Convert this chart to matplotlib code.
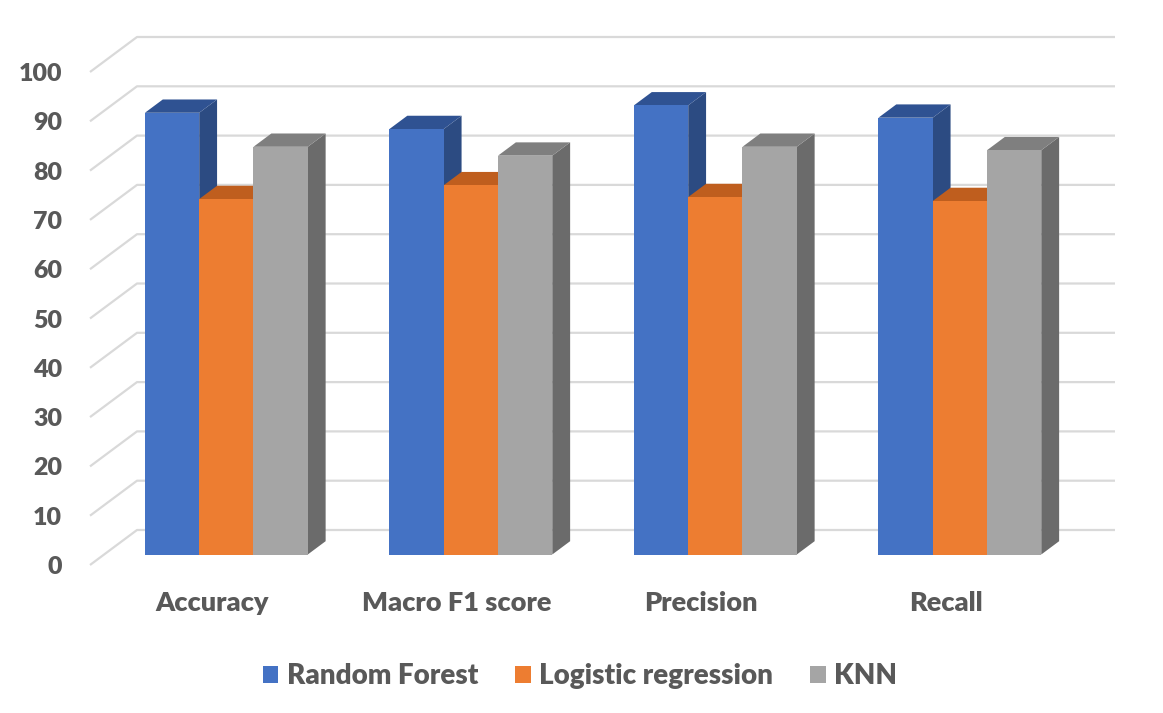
import matplotlib
matplotlib.use("Agg")
import matplotlib.pyplot as plt
from matplotlib.patches import Polygon, Patch

# ---- data ----
categories = ["Accuracy", "Macro F1 score", "Precision", "Recall"]
series_names = ["Random Forest", "Logistic regression", "KNN"]
random_forest = [89.6, 86.3, 91.1, 88.6]
logistic_regression = [72.1, 74.9, 72.5, 71.7]
knn = [82.7, 80.9, 82.7, 82.0]
y_ticks = list(range(0, 101, 10))

# ---- style ----
front_colors = ["#4472C4", "#ED7D31", "#A5A5A5"]
top_colors = ["#2F5292", "#BF5E1E", "#7F7F7F"]
side_colors = ["#2C4B82", "#B05618", "#6B6B6B"]
grid_color = "#D9D9D9"
text_color = "#595959"
FONT = "Lato"

W, H = 1163, 713
fig = plt.figure(figsize=(W / 100, H / 100), dpi=100)

# axes placement (pixel geometry of the reference)
left_px, bottom_px = 90, 565
cat_px = 244.5          # pixels per category band
val_px = 4.93           # pixels per value unit
ax = fig.add_axes([left_px / W, (H - bottom_px) / H, (W - left_px) / W, bottom_px / H])
ax.set_xlim(-0.5, -0.5 + (W - left_px) / cat_px)
ax.set_ylim(0, bottom_px / val_px)

DX = 47 / cat_px        # depth offset in x data units
DY = 35 / val_px        # depth offset in value units


def proj(x, v, d):
    return (x + d * DX, v + d * DY)


ncat = len(categories)
# gridlines: left wall diagonal + back wall
for v in y_ticks:
    pts = [proj(-0.5, v, 0), proj(-0.5, v, 1), proj(ncat - 0.5, v, 1)]
    ax.plot([p[0] for p in pts], [p[1] for p in pts], color=grid_color,
            lw=1.6, solid_capstyle="butt", zorder=1, clip_on=False)

series = [random_forest, logistic_regression, knn]
bw = 0.222
d0, d1 = 0.30, 0.68
z = 2
for i in range(ncat):
    for s, vals in enumerate(series):
        v = vals[i]
        xl = i - 1.5 * bw + s * bw
        xr = xl + bw
        # side face
        side = [proj(xr, 0, d0), proj(xr, 0, d1), proj(xr, v, d1), proj(xr, v, d0)]
        ax.add_patch(Polygon(side, closed=True, facecolor=side_colors[s],
                             edgecolor="none", zorder=z, clip_on=False))
        # top face
        top = [proj(xl, v, d0), proj(xr, v, d0), proj(xr, v, d1), proj(xl, v, d1)]
        ax.add_patch(Polygon(top, closed=True, facecolor=top_colors[s],
                             edgecolor="none", zorder=z + 0.1, clip_on=False))
        # front face
        fx, fy = proj(xl, 0, d0)
        ax.bar(fx, v, width=bw, bottom=fy, align="edge", color=front_colors[s],
               edgecolor="none", zorder=z + 0.2, clip_on=False)
        z += 1

for sp in ax.spines.values():
    sp.set_visible(False)
ax.set_yticks(y_ticks)
ax.set_yticklabels([str(t) for t in y_ticks])
ax.set_xticks(range(ncat))
ax.set_xticklabels(categories)
ax.tick_params(axis="y", length=0, pad=20, labelsize=18, labelcolor=text_color)
ax.tick_params(axis="x", length=0, pad=19, labelsize=19.5, labelcolor=text_color)
for lab in ax.get_xticklabels() + ax.get_yticklabels():
    lab.set_fontfamily(FONT)
    lab.set_fontweight("heavy")

handles = [Patch(facecolor=c, edgecolor="none") for c in front_colors]
leg = fig.legend(handles, series_names, loc="center",
                 bbox_to_anchor=(580 / W, 1 - 676 / H), ncol=3, frameon=False,
                 prop={"family": FONT, "weight": "heavy", "size": 20},
                 handlelength=0.55, handleheight=0.55, handletextpad=0.3,
                 columnspacing=1.35)
for t in leg.get_texts():
    t.set_color(text_color)

fig.savefig("out.png", dpi=100)
